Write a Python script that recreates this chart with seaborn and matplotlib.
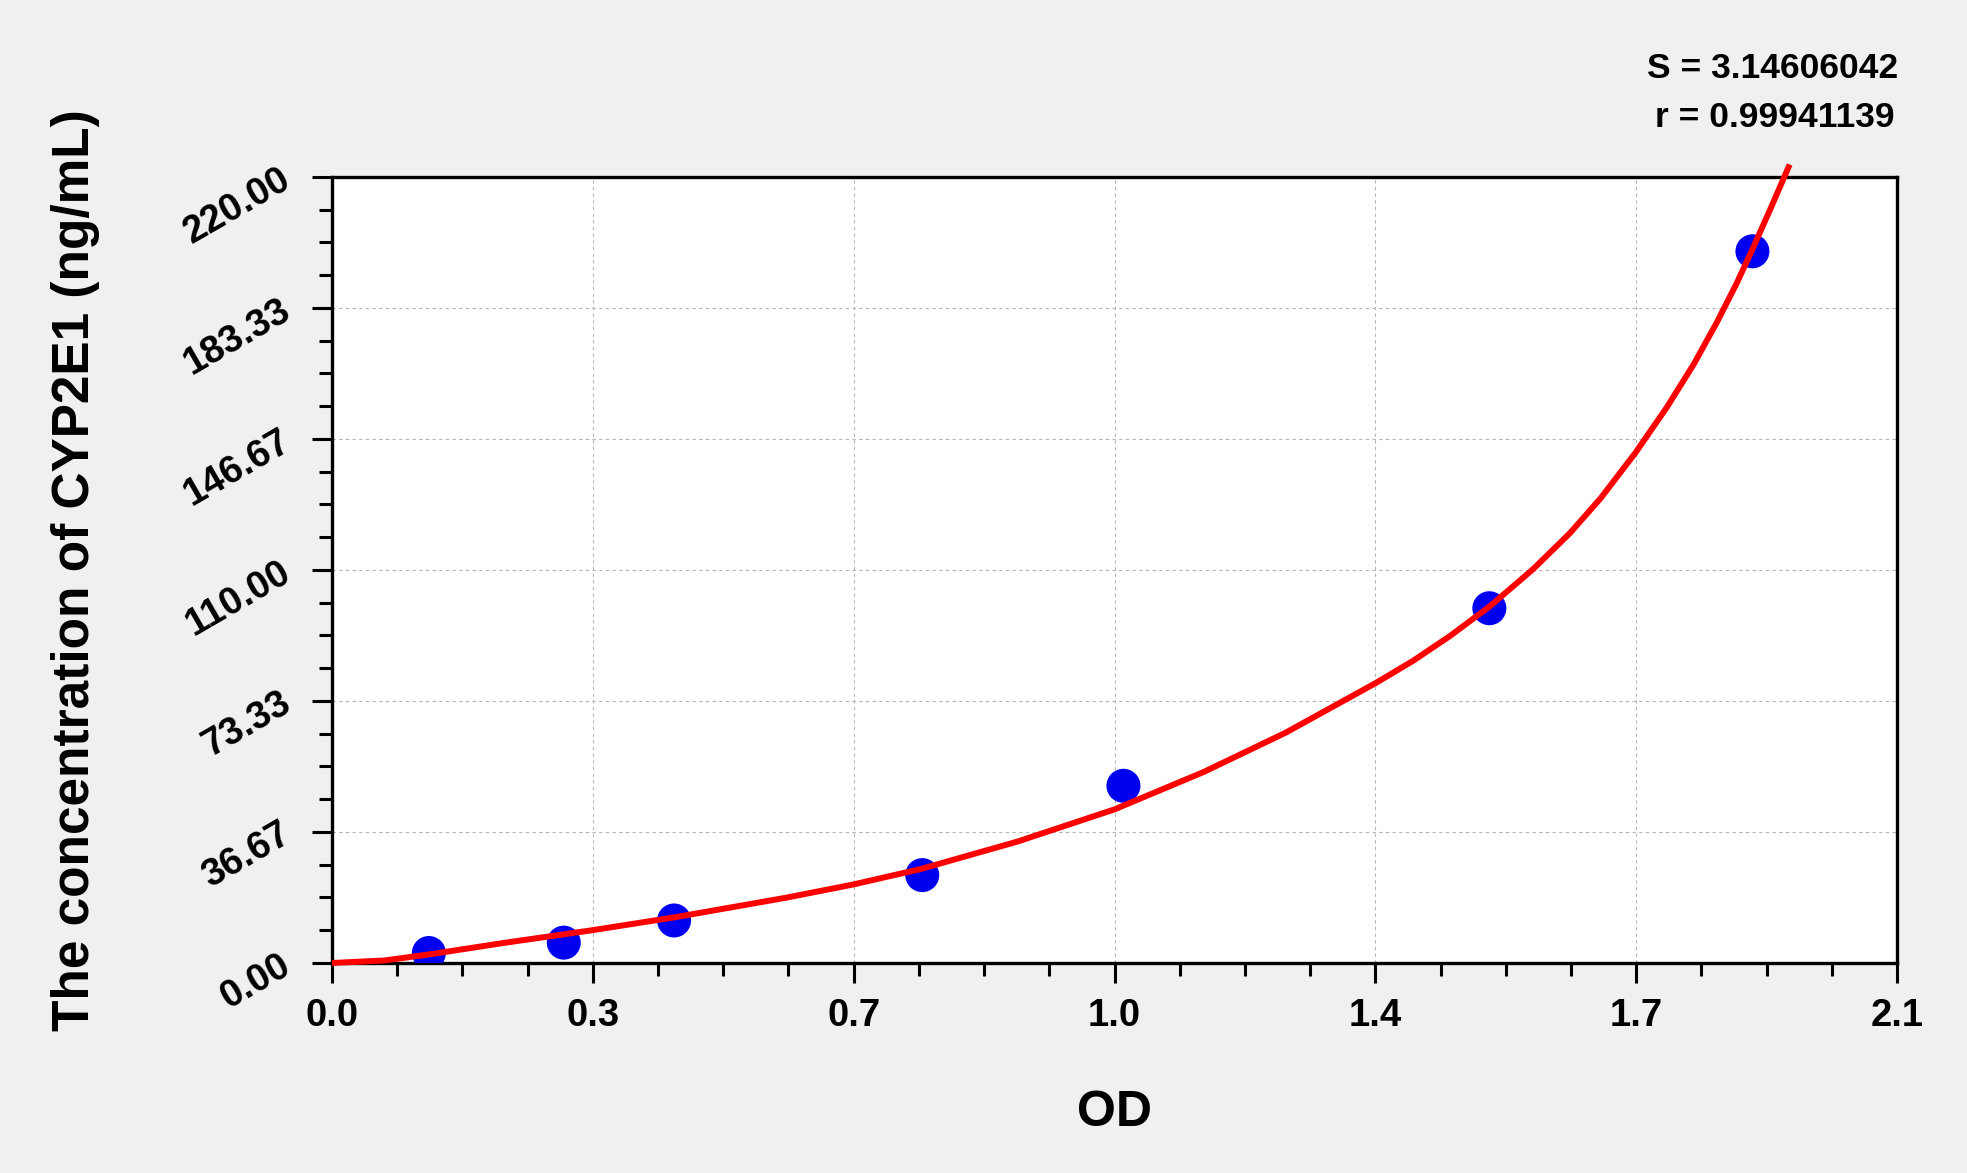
import numpy as np
import pandas as pd
import seaborn as sns
import matplotlib
matplotlib.use("Agg")
import matplotlib.pyplot as plt
from matplotlib.ticker import AutoMinorLocator

# standard points
od = [0.130, 0.311, 0.459, 0.792, 1.062, 1.553, 1.906]
conc = [2.8, 5.7, 11.9, 24.6, 49.6, 99.3, 199.2]

# fitted curve
curve_od = [0.0, 0.07, 0.13, 0.23, 0.35, 0.46, 0.61, 0.70, 0.79, 0.92, 1.05, 1.17,
            1.28, 1.40, 1.45, 1.50, 1.554, 1.612, 1.661, 1.702, 1.749, 1.791, 1.827,
            1.858, 1.885, 1.905, 1.930, 1.956]
curve_conc = [0.0, 0.7, 2.4, 5.6, 9.2, 12.8, 18.3, 22.0, 26.3, 34.0, 43.0, 53.5,
              64.5, 78.3, 84.5, 91.5, 99.9, 110.3, 120.3, 130.0, 142.8, 155.5, 167.5,
              179.2, 190.3, 199.3, 211.0, 223.5]

x_ticks = [0.0, 0.35, 0.7, 1.05, 1.4, 1.75, 2.1]
x_labels = ['0.0', '0.3', '0.7', '1.0', '1.4', '1.7', '2.1']
y_ticks = [0.0, 36.67, 73.33, 110.0, 146.67, 183.33, 220.0]
y_labels = ['0.00', '36.67', '73.33', '110.00', '146.67', '183.33', '220.00']

s_text = "S = 3.14606042"
r_text = "r = 0.99941139"

sns.set_style("white")
plt.rcParams['font.family'] = ['Liberation Sans', 'DejaVu Sans']
plt.rcParams['font.weight'] = 'bold'
plt.rcParams['text.color'] = 'black'
plt.rcParams['axes.labelcolor'] = 'black'
plt.rcParams['xtick.color'] = 'black'
plt.rcParams['ytick.color'] = 'black'

fig = plt.figure(figsize=(19.67, 11.73), dpi=100, facecolor='#f0f0f0')
ax = fig.add_axes([332/1967, 1-963/1173, (1897-332)/1967, (963-177)/1173])
ax.set_facecolor('white')

pts = pd.DataFrame({'OD': od, 'conc': conc})
sns.scatterplot(data=pts, x='OD', y='conc', s=600, color='#0000f0',
                edgecolor='none', zorder=3, ax=ax, legend=False)
sns.lineplot(x=curve_od, y=curve_conc, sort=False, estimator=None, color='#ff0000',
             lw=4.3, zorder=4, ax=ax, clip_on=False, solid_joinstyle='round',
             solid_capstyle='butt')

ax.set_xlim(0, 2.1)
ax.set_ylim(0, 220)
ax.set_xticks(x_ticks)
ax.set_xticklabels(x_labels, fontsize=27.5, fontweight='bold')
ax.set_yticks(y_ticks)
ax.set_yticklabels(y_labels, fontsize=27.5, fontweight='bold', rotation=30,
                   ha='right', va='center', rotation_mode='anchor')
ax.xaxis.set_minor_locator(AutoMinorLocator(4))
ax.yaxis.set_minor_locator(AutoMinorLocator(4))
ax.tick_params(which='major', direction='out', length=14.5, width=2.2, color='black',
               bottom=True, left=True)
ax.tick_params(which='minor', direction='out', length=9.5, width=2.2, color='black',
               bottom=True, left=True)
ax.tick_params(axis='x', which='major', pad=11)
ax.tick_params(axis='y', which='major', pad=17)

ax.grid(True, which='major', color='#b4b4b4', linestyle=(0, (3, 3)), linewidth=0.8)
for sp in ax.spines.values():
    sp.set_visible(True)
    sp.set_color('black')
    sp.set_linewidth(2.4)

ax.set_xlabel('OD', fontsize=36, fontweight='bold', va='center')
ax.xaxis.set_label_coords(0.5, -0.191)
ax.set_ylabel('The concentration of CYP2E1 (ng/mL)', fontsize=37, fontweight='bold', va='center')
ax.yaxis.set_label_coords(-0.164, 0.5)

fig.text(1898/1967, 1-78/1173, s_text, ha='right', va='baseline', fontsize=25.5, fontweight='bold')
fig.text(1895/1967, 1-127/1173, r_text, ha='right', va='baseline', fontsize=25.5, fontweight='bold')

fig.savefig('out.png', dpi=100, facecolor=fig.get_facecolor())
